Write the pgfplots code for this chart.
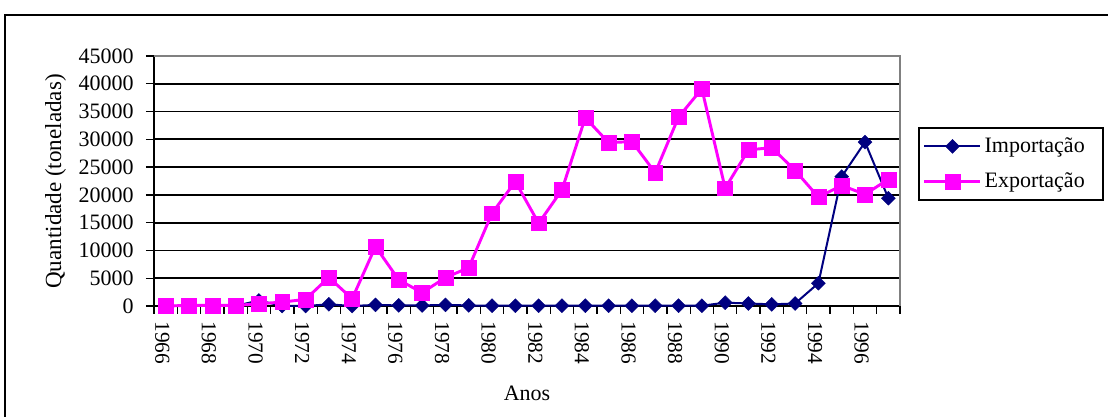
\documentclass[border=0pt]{standalone}
\usepackage{pgfplots}
\pgfplotsset{compat=1.18}
\usepackage{fontspec}
\setmainfont{Liberation Serif}

\definecolor{impnavy}{RGB}{0,0,128}
\definecolor{expmag}{RGB}{255,0,255}

% Year index: 0 = 1966 ... 31 = 1997
\begin{document}
\begin{tikzpicture}
\fontsize{16.5}{19}\selectfont
\useasboundingbox (0,0) rectangle (831pt,312.75pt);
% outer chart frame
\draw[line width=1.5pt, black] (3.75pt,-10pt) -- (3.75pt,301.5pt) -- (845pt,301.5pt);
\begin{axis}[
  at={(115.5pt,83.25pt)}, anchor=south west,
  scale only axis, width=559.5pt, height=187.5pt,
  clip=false,
  xmin=-0.5, xmax=31.5, ymin=0, ymax=45000,
  axis x line*=bottom, axis y line*=left,
  axis line style={black, line width=1.5pt, -},
  xtick={0,2,...,30},
  xticklabels={1966,1968,1970,1972,1974,1976,1978,1980,1982,1984,1986,1988,1990,1992,1994,1996},
  xticklabel style={rotate=-90, anchor=west, yshift=-2.5pt, font=\fontsize{16}{19}\selectfont},
  minor xtick={-0.5,0.5,...,31.5},
  tick align=outside,
  major tick length=6pt, minor tick length=6pt,
  major x tick style={draw=none},
  minor x tick style={black, line width=1pt},
  y tick style={black, line width=1pt},
  ytick={0,5000,...,45000},
  scaled y ticks=false,
  yticklabel style={xshift=-3.5pt, font=\fontsize{16.5}{19}\selectfont},
  /pgf/number format/.cd, 1000 sep={}, assume math mode=true, /pgfplots/.cd,
  ymajorgrids,
  major grid style={black, line width=1.3pt},
  xlabel={Anos}, ylabel={Quantidade (toneladas)},
  xlabel style={font=\fontsize{16.5}{19}\selectfont, at={(axis description cs:0.5,-0.35)}, anchor=center},
  ylabel style={font=\fontsize{17.3}{20}\selectfont, at={(axis description cs:-0.132,0.498)}, anchor=center},
  legend style={at={(axis description cs:1.0241,0.716)}, anchor=north west,
    draw=black, line width=1.5pt, font=\fontsize{16.5}{19}\selectfont,
    inner xsep=3pt, inner ysep=5pt, row sep=9pt},
  legend cell align=left,
  legend image code/.code={\draw[mark repeat=2,mark phase=2,#1] plot coordinates {(0pt,0pt) (21pt,0pt) (42pt,0pt)};},
]
\addplot[impnavy, line width=1.5pt, mark=square*, mark size=3.7pt,
  mark options={rotate=45, solid, fill=impnavy, line width=0.3pt}] coordinates {
  (0,0) (1,0) (2,0) (3,0) (4,1000) (5,0) (6,0) (7,300)
  (8,0) (9,200) (10,100) (11,100) (12,200) (13,100) (14,50) (15,50)
  (16,50) (17,50) (18,50) (19,50) (20,50) (21,50) (22,50) (23,50)
  (24,600) (25,450) (26,300) (27,450) (28,4100) (29,23300) (30,29500) (31,19400)
};
\addlegendentry{Importação\kern9pt}
\addplot[expmag, line width=2.2pt, mark=square*, mark size=5.6pt,
  mark options={solid, fill=expmag, line width=0.3pt}] coordinates {
  (0,0) (1,100) (2,100) (3,100) (4,400) (5,700) (6,1200) (7,5150)
  (8,1300) (9,10700) (10,4700) (11,2400) (12,5100) (13,6900) (14,16700) (15,22400)
  (16,14900) (17,20900) (18,33900) (19,29400) (20,29600) (21,24000) (22,34000) (23,39100)
  (24,21200) (25,28100) (26,28500) (27,24400) (28,19600) (29,21700) (30,20100) (31,22800)
};
\addlegendentry{Exportação\kern9pt}
% plot-area border on the top and right side
\draw[gray, line width=1.5pt] (rel axis cs:0,1) -- (rel axis cs:1,1) -- (rel axis cs:1,0);
\end{axis}
\end{tikzpicture}
\end{document}
